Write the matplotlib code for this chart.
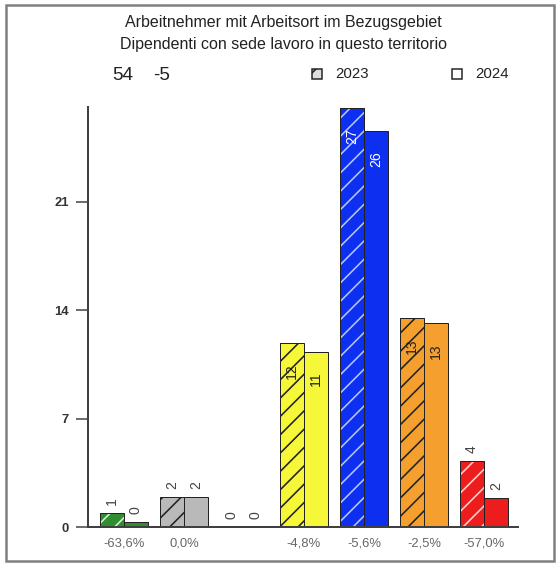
import matplotlib
matplotlib.use("Agg")
import matplotlib.pyplot as plt
from matplotlib.patches import Rectangle

plt.rcParams['font.family'] = ['Liberation Sans', 'DejaVu Sans']

# ---- data ----
categories = ["A", "B", "C", "D", "E", "F", "G"]
values_2023 = [0.92, 1.95, 0.0, 11.87, 27.05, 13.48, 4.28]
values_2024 = [0.33, 1.95, 0.0, 11.30, 25.55, 13.15, 1.85]
labels_2023 = ["1", "2", "0", "12", "27", "13", "4"]
labels_2024 = ["0", "2", "0", "11", "26", "13", "2"]
pct_labels = ["-63,6%", "0,0%", "", "-4,8%", "-5,6%", "-2,5%", "-57,0%"]
colors = ["#2f8f2f", "#b9b9b9", "#ffffff", "#f7f73a", "#0c2ff0", "#f5a02e", "#ee1d1d"]
hatch_colors = ["#d8f0d8", "#222222", "#222222", "#222222", "#b8c4ff", "#222222", "#ffd0d0"]
inside_colors = ["#222222", "#222222", "#222222", "#222222", "#ffffff", "#222222", "#222222"]
yticks = [0, 7, 14, 21]
title_lines = ["Arbeitnehmer mit Arbeitsort im Bezugsgebiet",
               "Dipendenti con sede lavoro in questo territorio"]
total_text = "54"
diff_text = "-5"
legend_labels = ["2023", "2024"]

W, H = 556, 565
DPI = 110
P = 72.0 / DPI  # pixels -> points

plt.rcParams['hatch.linewidth'] = 1.6 * P

fig = plt.figure(figsize=(W / DPI, H / DPI), dpi=DPI)
fig.patch.set_facecolor("white")

def fx(x):
    return x / W

def fy(y):
    return 1 - y / H

ax = fig.add_axes([fx(88), fy(527), fx(518) - fx(88), fy(107) - fy(527)])
ax.set_xlim(-0.6, 6.567)
ax.set_ylim(0, 27.1)

axis_col = "#404040"
edge = "#222222"
bw = 0.4
for i in range(len(categories)):
    v1, v2 = values_2023[i], values_2024[i]
    x1, x2 = i - bw / 2, i + bw / 2
    if v1 > 0:
        ax.bar(x1, v1, width=bw, color=colors[i], edgecolor="none", linewidth=0)
        ax.bar(x1, v1, width=bw, facecolor="none", edgecolor=hatch_colors[i],
               hatch="//", linewidth=0)
        ax.bar(x1, v1, width=bw, facecolor="none", edgecolor=edge, linewidth=1.0 * P)
    if v2 > 0:
        ax.bar(x2, v2, width=bw, color=colors[i], edgecolor=edge, linewidth=1.0 * P)
    for x, v, lab in ((x1, v1, labels_2023[i]), (x2, v2, labels_2024[i])):
        if v >= 10:
            ax.annotate(lab, xy=(x, v), xytext=(0, -20 * P), textcoords="offset points",
                        rotation=90, ha="center", va="top", fontsize=14 * P,
                        color=inside_colors[i])
        else:
            ax.annotate(lab, xy=(x, v), xytext=(0, 8 * P), textcoords="offset points",
                        rotation=90, ha="center", va="bottom", fontsize=14 * P,
                        color="#444444")
    if pct_labels[i]:
        ax.annotate(pct_labels[i], xy=(i, 0), xytext=(0, -17 * P), textcoords="offset points",
                    ha="center", va="center", fontsize=13 * P, color="#666666")

for s in ["top", "right"]:
    ax.spines[s].set_visible(False)
for s in ["left", "bottom"]:
    ax.spines[s].set_color(axis_col)
    ax.spines[s].set_linewidth(2 * P)
ax.set_xticks([])
ax.set_yticks(yticks)
ax.tick_params(axis="y", length=12 * P, width=1.5 * P, color=axis_col, pad=7 * P,
               labelsize=13 * P, labelcolor="#333333")
for t in ax.get_yticklabels():
    t.set_fontweight("bold")
ax.set_facecolor("white")

# titles and header
fig.text(fx(283), fy(23), title_lines[0], ha="center", va="center", fontsize=16 * P, color="#222222")
fig.text(fx(283), fy(44), title_lines[1], ha="center", va="center", fontsize=16 * P, color="#222222")
fig.text(fx(112), fy(76), total_text, ha="left", va="center", fontsize=19 * P, color="#222222")
fig.text(fx(153), fy(76), diff_text, ha="left", va="center", fontsize=19 * P, color="#222222")

# legend
box = 10
fig.patches.append(Rectangle((fx(312), fy(79)), box / W, box / H, transform=fig.transFigure,
                             facecolor="#dddddd", edgecolor="#222222", linewidth=1.5 * P, hatch="//"))
fig.text(fx(335), fy(74), legend_labels[0], ha="left", va="center", fontsize=15 * P, color="#222222")
fig.patches.append(Rectangle((fx(452), fy(79)), box / W, box / H, transform=fig.transFigure,
                             facecolor="white", edgecolor="#222222", linewidth=1.5 * P))
fig.text(fx(475), fy(74), legend_labels[1], ha="left", va="center", fontsize=15 * P, color="#222222")

# outer frame
fig.patches.append(Rectangle((fx(6), fy(561)), (554 - 6) / W, (561 - 5) / H,
                             transform=fig.transFigure, facecolor="none",
                             edgecolor="#808080", linewidth=2.5 * P))

fig.savefig("out.png", dpi=DPI, facecolor="white")
